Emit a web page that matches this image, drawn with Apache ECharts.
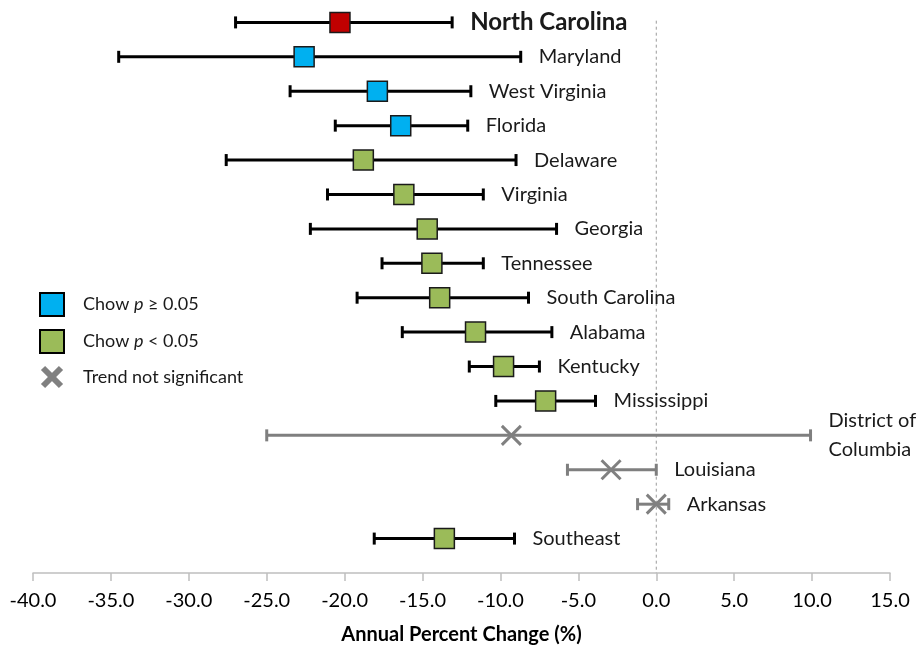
<!DOCTYPE html>
<html>
<head>
<meta charset="utf-8">
<script src="https://cdn.jsdelivr.net/npm/echarts@6/dist/echarts.min.js"></script>
<style>
html,body{margin:0;padding:0;background:#fff;}
#chart{width:920px;height:650px;}
</style>
</head>
<body>
<div id="chart"></div>
<script>
// ---- data ----
const states = ['North Carolina','Maryland','West Virginia','Florida','Delaware','Virginia','Georgia','Tennessee','South Carolina','Alabama','Kentucky','Mississippi','District of\nColumbia','Louisiana','Arkansas','Southeast'];
const apc     = [-20.3,-22.6,-17.9,-16.4,-18.8,-16.2,-14.7,-14.4,-13.9,-11.6,-9.8,-7.1,-9.3,-2.9,0.0,-13.6];
const lowerCI = [-27.0,-34.5,-23.5,-20.6,-27.6,-21.1,-22.2,-17.6,-19.2,-16.3,-12.0,-10.3,-25.0,-5.7,-1.2,-18.1];
const upperCI = [-13.1,-8.7,-11.9,-12.1,-9.0,-11.1,-6.4,-11.1,-8.2,-6.7,-7.5,-3.9,9.9,0.0,0.8,-9.1];
const group   = ['nc','blue','blue','blue','green','green','green','green','green','green','green','green','ns','ns','ns','green'];
const xTickMin = -40, xTickMax = 15, xTickStep = 5;
const legendLabels = ['Chow p ≥ 0.05','Chow p < 0.05','Trend not significant'];

const FONT = 'Lato, "Open Sans", sans-serif';
const chart = echarts.init(document.getElementById('chart'));

function markerData(g){
  const out = [];
  states.forEach((s,i)=>{ if(group[i]===g) out.push([apc[i], i]); });
  return out;
}
const barData = states.map((s,i)=>[i, lowerCI[i], upperCI[i]]);

const option = {
  animation:false,
  backgroundColor:'#fff',
  grid:{left:33, right:30, top:5.2, bottom:75},
  xAxis:{
    type:'value', min:xTickMin, max:xTickMax, interval:xTickStep,
    axisLine:{show:true, onZero:false, lineStyle:{color:'#BFBFBF', width:1.5}},
    axisTick:{show:true, length:8, lineStyle:{color:'#BFBFBF', width:1.5}},
    splitLine:{show:false},
    axisLabel:{formatter:v=>v.toFixed(1), color:'#000', fontSize:20, fontFamily:FONT, margin:18},
    name:'Annual Percent Change (%)', nameLocation:'middle', nameGap:52,
    nameTextStyle:{color:'#000', fontSize:20, fontWeight:'bold', fontFamily:FONT}
  },
  yAxis:{type:'value', min:-0.5, max:16, inverse:true, show:false},
  series:[
    {
      type:'custom', z:1, silent:true,
      data:[[0]],
      renderItem(params, api){
        const top = api.coord([api.value(0), -0.05]);
        const bot = api.coord([api.value(0), 16]);
        return {type:'line', shape:{x1:top[0],y1:top[1],x2:bot[0],y2:bot[1]},
          style:{stroke:'#9a9a9a', lineWidth:1, lineDash:[3,3]}};
      }
    },
    {
      type:'custom', z:2, silent:true,
      data:barData,
      encode:{x:[1,2], y:0},
      renderItem(params, api){
        const i = params.dataIndex;
        const row = api.value(0), lo = api.value(1), hi = api.value(2);
        const pL = api.coord([lo,row]), pH = api.coord([hi,row]);
        const ns = group[i]==='ns';
        const c = ns ? '#7F7F7F' : '#000';
        const h = 6;
        const nc = group[i]==='nc';
        return {type:'group', children:[
          {type:'line', shape:{x1:pL[0],y1:pL[1],x2:pH[0],y2:pH[1]}, style:{stroke:c, lineWidth:3}},
          {type:'line', shape:{x1:pL[0],y1:pL[1]-h,x2:pL[0],y2:pL[1]+h}, style:{stroke:c, lineWidth:3}},
          {type:'line', shape:{x1:pH[0],y1:pH[1]-h,x2:pH[0],y2:pH[1]+h}, style:{stroke:c, lineWidth:3}},
          {type:'text', x:pH[0]+18, y:pH[1], style:{
            text:states[i], fill:'#1a1a1a', fontSize: nc ? 24 : 20, fontFamily:FONT,
            fontWeight: nc ? 'bold' : 'normal',
            align:'left', verticalAlign:'middle', lineHeight:29}}
        ]};
      }
    },
    {type:'scatter', z:3, data:markerData('nc'), symbol:'rect', symbolSize:20,
      itemStyle:{color:'#C00000', borderColor:'#1a1a1a', borderWidth:1.5, opacity:1}},
    {type:'scatter', z:3, data:markerData('blue'), symbol:'rect', symbolSize:20,
      itemStyle:{color:'#00B0F0', borderColor:'#1a1a1a', borderWidth:1.5, opacity:1}},
    {type:'scatter', z:3, data:markerData('green'), symbol:'rect', symbolSize:20,
      itemStyle:{color:'#9BBB59', borderColor:'#1a1a1a', borderWidth:1.5, opacity:1}},
    {type:'scatter', z:3, data:markerData('ns'), symbol:'path://M0,0L10,10M10,0L0,10', symbolSize:19,
      itemStyle:{color:'none', borderColor:'#808080', borderWidth:3, opacity:1}}
  ],
  graphic:[
    {type:'rect', left:39, top:292, shape:{width:24, height:23}, style:{fill:'#00B0F0', stroke:'#000', lineWidth:2}},
    {type:'rect', left:39, top:329, shape:{width:24, height:23}, style:{fill:'#9BBB59', stroke:'#000', lineWidth:2}},
    {type:'line', shape:{x1:43,y1:368,x2:61,y2:386}, style:{stroke:'#808080', lineWidth:6}},
    {type:'line', shape:{x1:61,y1:368,x2:43,y2:386}, style:{stroke:'#808080', lineWidth:6}},
    {type:'text', x:83, y:304, style:{text:'{n|Chow }{i|p}{n| ≥ 0.05}', verticalAlign:'middle',
      rich:{n:{fontSize:18, fontFamily:FONT, fill:'#1a1a1a'}, i:{fontSize:18, fontFamily:FONT, fontStyle:'italic', fill:'#1a1a1a'}}}},
    {type:'text', x:83, y:341, style:{text:'{n|Chow }{i|p}{n| < 0.05}', verticalAlign:'middle',
      rich:{n:{fontSize:18, fontFamily:FONT, fill:'#1a1a1a'}, i:{fontSize:18, fontFamily:FONT, fontStyle:'italic', fill:'#1a1a1a'}}}},
    {type:'text', x:83, y:377, style:{text:legendLabels[2], verticalAlign:'middle', fontSize:18, fontFamily:FONT, fill:'#1a1a1a'}}
  ]
};
chart.setOption(option);
</script>
</body>
</html>
